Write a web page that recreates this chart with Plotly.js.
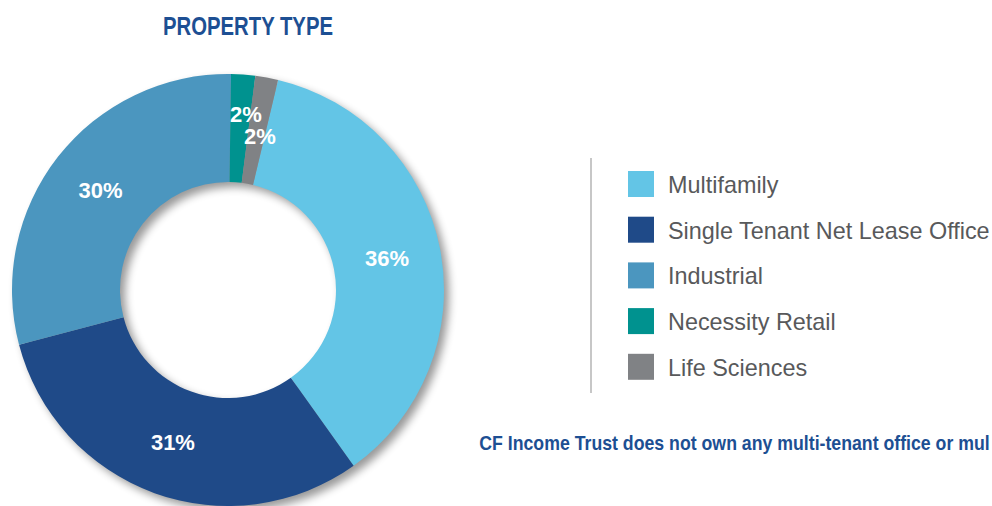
<!DOCTYPE html>
<html>
<head>
<meta charset="utf-8">
<script src="https://cdn.plot.ly/plotly-3.0.1.min.js"></script>
<style>
  html, body { margin: 0; padding: 0; background: #fff; }
  #chart { width: 992px; height: 506px; }
</style>
</head>
<body>
<div id="chart"></div>
<script>
// ---- data ----
const categories = ["Multifamily", "Single Tenant Net Lease Office", "Industrial", "Necessity Retail", "Life Sciences"];
const shares = [36.4, 30.8, 29.3, 1.8, 1.7];
const shareLabels = ["36%", "31%", "30%", "2%", "2%"];
const colors = ["#63c5e6", "#1f4a88", "#4b96bf", "#00928f", "#808285"];
const chartTitle = "PROPERTY TYPE";
const footnote = "CF Income Trust does not own any multi-tenant office or mul";

// ---- layout constants ----
const W = 992, H = 506;
const blue = "#1d4f93";
const sans = "'Liberation Sans', Arial, Helvetica, sans-serif";
const pieLeft = 11, pieRight = 445, pieTop = 74;
const rotation = 13.4;
const hole = 0.5;
// small slices get their labels placed as annotations (nudged like the reference)
const smallCut = 5;
const radialNudge = [0, 0, 0, 14, -5];
const angularNudge = [0, 0, 0, 1.8, 1.3];

const data = [{
  type: "pie",
  labels: categories,
  values: shares,
  text: shareLabels,
  textinfo: "text",
  textposition: shares.map(v => v < smallCut ? "none" : "inside"),
  insidetextorientation: "horizontal",
  textfont: { family: sans, size: 22, color: "#ffffff", weight: "bold" },
  marker: { colors: colors, line: { width: 0 } },
  hole: hole,
  sort: false,
  direction: "clockwise",
  rotation: rotation,
  domain: { x: [pieLeft / W, pieRight / W], y: [0, 1 - pieTop / H] },
  hoverinfo: "label+percent",
  showlegend: false
}];

const shapes = [];
const annotations = [];

// labels for the thin slices, positioned from the data (mid-angle of each slice)
(function () {
  const R = Math.min(pieRight - pieLeft, H - pieTop) / 2;
  const cx = (pieLeft + pieRight) / 2;
  const cy = H - R;
  const rMid = R * (1 + hole) / 2;
  const total = shares.reduce((a, b) => a + b, 0);
  let cum = 0;
  shares.forEach((v, i) => {
    const midDeg = rotation + 360 * (cum + v / 2) / total + angularNudge[i];
    cum += v;
    if (v >= smallCut) return;
    const th = midDeg * Math.PI / 180;
    const r = rMid + radialNudge[i];
    const px = cx + r * Math.sin(th);
    const py = cy - r * Math.cos(th);
    annotations.push({
      xref: "paper", yref: "paper", x: px / W, y: 1 - py / H,
      xanchor: "center", yanchor: "middle", showarrow: false,
      text: shareLabels[i],
      font: { family: sans, size: 22, color: "#ffffff", weight: "bold" }
    });
  });
})();

// custom legend built from the category / colour arrays
const legX0 = 628, legY0 = 184, legStep = 45.7, sw = 26;
categories.forEach((c, i) => {
  const yc = legY0 + i * legStep;
  shapes.push({
    type: "rect", xref: "paper", yref: "paper",
    x0: legX0 / W, x1: (legX0 + sw) / W,
    y0: 1 - (yc + sw / 2) / H, y1: 1 - (yc - sw / 2) / H,
    fillcolor: colors[i], line: { width: 0 }
  });
  annotations.push({
    xref: "paper", yref: "paper", x: 665.5 / W, y: 1 - (yc + 1) / H,
    xanchor: "left", yanchor: "middle", showarrow: false,
    text: c,
    font: { family: sans, size: 23.4, color: "#58595b" }
  });
});
// divider line
shapes.push({
  type: "line", xref: "paper", yref: "paper",
  x0: 591 / W, x1: 591 / W, y0: 1 - 158 / H, y1: 1 - 393 / H,
  line: { color: "#b4b4b4", width: 1.5 }
});
// footnote
annotations.push({
  xref: "paper", yref: "paper", x: 479 / W, y: 1 - 443 / H,
  xanchor: "left", yanchor: "middle", showarrow: false,
  text: footnote,
  font: { family: sans, size: 20, color: blue, weight: "bold" }
});

const layout = {
  width: W, height: H,
  margin: { l: 0, r: 0, t: 0, b: 0 },
  paper_bgcolor: "#ffffff",
  plot_bgcolor: "#ffffff",
  showlegend: false,
  uniformtext: { minsize: 22, mode: "show" },
  title: {
    text: chartTitle,
    x: 248 / W, xanchor: "center", xref: "paper",
    y: 1 - 26 / H, yanchor: "middle", yref: "container",
    font: { family: sans, size: 26.5, color: blue, weight: "bold" }
  },
  shapes: shapes,
  annotations: annotations
};

// squeeze a text element horizontally to a given width (condensed look), left edge at `left`
function condense(el, left, width) {
  if (!el) return;
  const bb = el.getBBox();
  const rc = el.getBoundingClientRect();
  const s = width / rc.width;
  const prev = el.getAttribute("transform") || "";
  el.setAttribute("transform",
    prev + " translate(" + (bb.x + (left - rc.left)) + ",0) scale(" + s + ",1) translate(" + (-bb.x) + ",0)");
}

const gd = document.getElementById("chart");
Plotly.newPlot(gd, data, layout, { displayModeBar: false, staticPlot: true }).then(() => {
  // condensed title and footnote
  condense(gd.querySelector(".g-gtitle text.gtitle"), 163, 170);
  gd.querySelectorAll(".annotation text.annotation-text").forEach(t => {
    if (t.textContent === footnote) condense(t, 479, 511);
  });

  // soft drop shadow under the donut ring
  const trace = gd.querySelector(".pielayer .trace");
  if (!trace) return;
  const NS = "http://www.w3.org/2000/svg";
  const shadow = document.createElementNS(NS, "g");
  trace.querySelectorAll("path.surface").forEach(p => {
    const c = p.cloneNode(false);
    c.style.fill = "#000";
    c.style.stroke = "none";
    c.style.fillOpacity = "1";
    shadow.appendChild(c);
  });
  shadow.setAttribute("transform", "translate(5,5)");
  shadow.style.filter = "blur(4px)";
  shadow.style.opacity = "0.4";
  trace.parentNode.insertBefore(shadow, trace);
});
</script>
</body>
</html>
